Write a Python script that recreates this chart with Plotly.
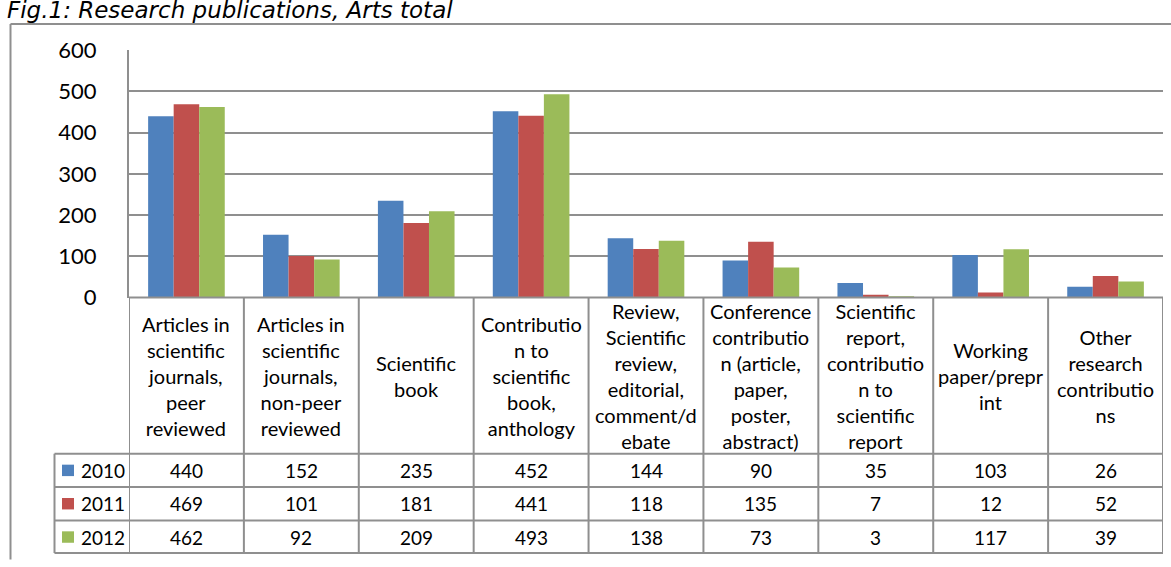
import plotly.graph_objects as go

# ---------------- data ----------------
categories = [
    "Articles in scientific journals, peer reviewed",
    "Articles in scientific journals, non-peer reviewed",
    "Scientific book",
    "Contribution to scientific book, anthology",
    "Review, Scientific review, editorial, comment/debate",
    "Conference contribution (article, paper, poster, abstract)",
    "Scientific report, contribution to scientific report",
    "Working paper/preprint",
    "Other research contributions",
]
category_labels = [
    "Articles in<br>scientific<br>journals,<br>peer<br>reviewed",
    "Articles in<br>scientific<br>journals,<br>non-peer<br>reviewed",
    "Scientific<br>book",
    "Contributio<br>n to<br>scientific<br>book,<br>anthology",
    "Review,<br>Scientific<br>review,<br>editorial,<br>comment/d<br>ebate",
    "Conference<br>contributio<br>n (article,<br>paper,<br>poster,<br>abstract)",
    "Scientific<br>report,<br>contributio<br>n to<br>scientific<br>report",
    "Working<br>paper/prepr<br>int",
    "Other<br>research<br>contributio<br>ns",
]
series_names = ["2010", "2011", "2012"]
values_2010 = [440, 152, 235, 452, 144, 90, 35, 103, 26]
values_2011 = [469, 101, 181, 441, 118, 135, 7, 12, 52]
values_2012 = [462, 92, 209, 493, 138, 73, 3, 117, 39]
series_values = [values_2010, values_2011, values_2012]
colors = ["#4F81BD", "#C0504D", "#9BBB59"]
y_ticks = [0, 100, 200, 300, 400, 500, 600]
title_text = "Fig.1: Research publications, Arts total"

# ---------------- layout constants (pixels) ----------------
W, H = 1171, 567
PLOT_L, PLOT_R = 129, 1163
PLOT_T, PLOT_B = 38, 297.7
LABEL_B = 461.7
ROW_H = 35
TABLE_B = 566
LEG_L = 54.5
BORDER = 10.5
LINE_C = "#8f8f8f"
FONT = "Lato"


def px(x):
    return x / W


def py(y):
    return 1 - y / H


fig = go.Figure()
for name, vals, col in zip(series_names, series_values, colors):
    fig.add_trace(go.Bar(
        x=categories, y=vals, name=name,
        marker=dict(color=col, line=dict(width=0)),
        showlegend=False,
    ))

shapes = []
annotations = []

# outer border
shapes.append(dict(type="line", xref="paper", yref="paper",
                   x0=px(BORDER), x1=1.01, y0=py(BORDER), y1=py(BORDER),
                   line=dict(color=LINE_C, width=2)))
shapes.append(dict(type="line", xref="paper", yref="paper",
                   x0=px(BORDER), x1=px(BORDER), y0=py(BORDER), y1=-0.01,
                   line=dict(color=LINE_C, width=2)))

# x axis line (top of table)
shapes.append(dict(type="line", xref="paper", yref="paper",
                   x0=px(PLOT_L), x1=px(PLOT_R), y0=py(PLOT_B), y1=py(PLOT_B),
                   line=dict(color=LINE_C, width=2)))
# vertical category separators in table
for i in range(len(categories) + 1):
    shapes.append(dict(type="line", xref="x", yref="paper",
                       x0=i - 0.5, x1=i - 0.5, y0=py(PLOT_B), y1=py(TABLE_B),
                       line=dict(color=LINE_C, width=2)))
# horizontal row lines
for r in range(len(series_names) + 1):
    yy = LABEL_B + r * ROW_H if r < len(series_names) else TABLE_B
    shapes.append(dict(type="line", xref="paper", yref="paper",
                       x0=px(LEG_L), x1=px(PLOT_R), y0=py(yy), y1=py(yy),
                       line=dict(color=LINE_C, width=2)))
# legend column left line
shapes.append(dict(type="line", xref="paper", yref="paper",
                   x0=px(LEG_L), x1=px(LEG_L), y0=py(LABEL_B), y1=py(TABLE_B),
                   line=dict(color=LINE_C, width=2)))

# category labels
label_mid = (PLOT_B + LABEL_B) / 2
for cat, lab in zip(categories, category_labels):
    annotations.append(dict(x=cat, xref="x", y=py(label_mid), yref="paper",
                            text=lab, showarrow=False, xanchor="center",
                            yanchor="middle", align="center",
                            font=dict(family=FONT, size=20, color="black")))

# table rows
for r, (name, vals, col) in enumerate(zip(series_names, series_values, colors)):
    row_mid = LABEL_B + r * ROW_H + ROW_H / 2
    for cat, v in zip(categories, vals):
        annotations.append(dict(x=cat, xref="x", y=py(row_mid), yref="paper",
                                text=str(v), showarrow=False, xanchor="center",
                                yanchor="middle",
                                font=dict(family=FONT, size=19, color="black")))
    # legend key
    shapes.append(dict(type="rect", xref="paper", yref="paper",
                       x0=px(62), x1=px(74), y0=py(row_mid - 6), y1=py(row_mid + 6),
                       fillcolor=col, line=dict(width=0)))
    annotations.append(dict(x=px(79), xref="paper", y=py(row_mid), yref="paper",
                            text=name, showarrow=False, xanchor="left",
                            yanchor="middle",
                            font=dict(family=FONT, size=19, color="black")))

# title (partially cut at top, as in the source)
annotations.append(dict(x=px(6), xref="paper", y=py(11), yref="paper",
                        text=title_text, showarrow=False, xanchor="left",
                        yanchor="bottom", borderpad=0,
                        font=dict(family="DejaVu Sans", size=23, color="black",
                                  style="italic")))

fig.update_layout(
    width=W, height=H, autosize=False,
    margin=dict(l=0, r=0, t=0, b=0),
    paper_bgcolor="white", plot_bgcolor="white",
    barmode="group", bargap=0.333, bargroupgap=0,
    xaxis=dict(domain=[px(PLOT_L), px(PLOT_R)], range=[-0.5, len(categories) - 0.5],
               showticklabels=False, ticks="", showgrid=False, zeroline=False,
               showline=False),
    yaxis=dict(domain=[py(PLOT_B), py(PLOT_T)], range=[0, 600],
               tickvals=y_ticks, ticktext=[str(t) for t in y_ticks],
               showgrid=True, gridcolor=LINE_C, gridwidth=2,
               zeroline=False, showline=True, linecolor=LINE_C, linewidth=2,
               ticks="", ticklabelstandoff=26,
               tickfont=dict(family=FONT, size=22, color="black")),
    shapes=shapes, annotations=annotations,
)

fig.write_html("out.html", config={"displayModeBar": False},
               post_script="document.body.style.margin='0';document.body.style.padding='0';")
